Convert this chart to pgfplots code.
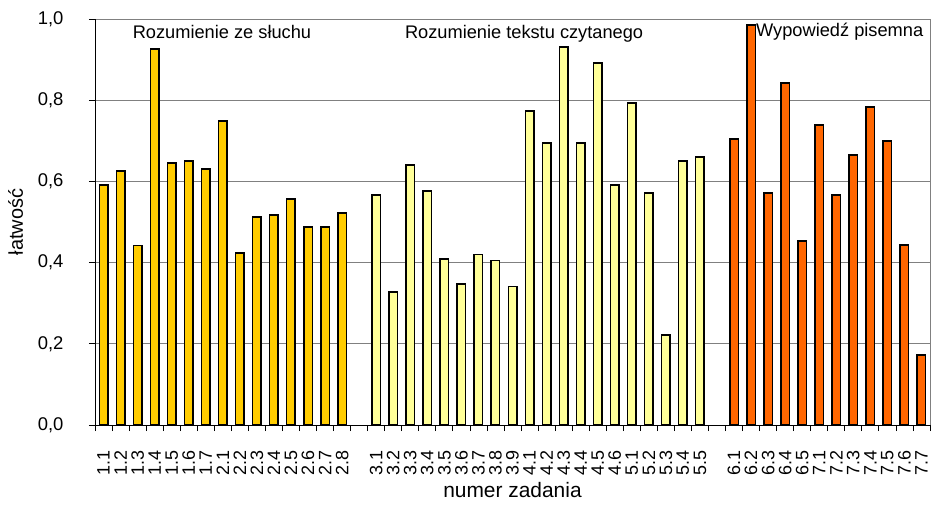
\documentclass[border=0pt]{standalone}
\usepackage{pgfplots}
\pgfplotsset{compat=1.18}
\usepackage{fontspec}
\setmainfont{Liberation Sans}
\definecolor{gold}{HTML}{FFCC00}
\definecolor{lightyel}{HTML}{FFFF99}
\definecolor{orng}{HTML}{FF6600}
\begin{document}
\begin{tikzpicture}
\path[use as bounding box] (-95bp,-81bp) rectangle (836bp,425bp);
\begin{axis}[
  at={(0,0)}, anchor=south west,
  scale only axis, width=835bp, height=406bp,
  xmin=-0.5, xmax=48.5, ymin=0, ymax=1,
  axis x line*=bottom, axis y line*=left,
  axis line style={-, black, line width=1pt},
  ymajorgrids, grid style={gray, line width=0.8pt},
  ytick={0,0.2,0.4,0.6,0.8,1},
  tick align=outside,
  major tick length=6bp, minor tick length=6bp,
  tick style={black, line width=0.8pt},
  major x tick style={draw=none},
  xtick={0,...,48},
  minor xtick={-0.5,0.5,...,48.5},
  xticklabels={1.1,1.2,1.3,1.4,1.5,1.6,1.7,2.1,2.2,2.3,2.4,2.5,2.6,2.7,2.8,,3.1,3.2,3.3,3.4,3.5,3.6,3.7,3.8,3.9,4.1,4.2,4.3,4.4,4.5,4.6,5.1,5.2,5.3,5.4,5.5,,6.1,6.2,6.3,6.4,6.5,7.1,7.2,7.3,7.4,7.5,7.6,7.7},
  xticklabel style={rotate=90, anchor=east, font=\fontsize{18}{18}\selectfont, inner sep=0pt, xshift=-19bp},
  yticklabel style={font=\fontsize{18.5}{18.5}\selectfont, xshift=-22bp},
  /pgf/number format/.cd, fixed, fixed zerofill, precision=1, use comma, assume math mode=true,
  /pgfplots/.cd,
  xlabel={numer zadania},
  ylabel={łatwość},
  xlabel style={font=\fontsize{21}{21}\selectfont, anchor=center, at={(axis description cs:0.5,-0.16)}},
  ylabel style={font=\fontsize{20}{20}\selectfont, anchor=center, at={(axis description cs:-0.095,0.5)}},
  every axis plot/.append style={ybar, bar width=8.5bp, bar shift=0pt, draw=black, line width=1.5bp},
  clip=false,
]
\addplot[fill=gold] coordinates {
(0,0.591) (1,0.626) (2,0.442) (3,0.926) (4,0.645) (5,0.650) (6,0.631) (7,0.749)
(8,0.424) (9,0.512) (10,0.517) (11,0.557) (12,0.488) (13,0.488) (14,0.522)};
\addplot[fill=lightyel] coordinates {
(16,0.567) (17,0.327) (18,0.640) (19,0.576) (20,0.409) (21,0.347) (22,0.420) (23,0.405)
(24,0.341) (25,0.773) (26,0.695) (27,0.931) (28,0.695) (29,0.892) (30,0.591) (31,0.793)
(32,0.571) (33,0.222) (34,0.650) (35,0.660)};
\addplot[fill=orng] coordinates {
(37,0.704) (38,0.985) (39,0.571) (40,0.842) (41,0.453) (42,0.739) (43,0.567) (44,0.665)
(45,0.783) (46,0.700) (47,0.443) (48,0.172)};
\draw[gray, line width=0.8pt] (rel axis cs:1,0) -- (rel axis cs:1,1);
\node[anchor=base, font=\fontsize{18.3}{18.3}\selectfont] at (axis cs:6.95,0.951) {Rozumienie ze słuchu};
\node[anchor=base, font=\fontsize{18.3}{18.3}\selectfont] at (axis cs:24.68,0.951) {Rozumienie tekstu czytanego};
\node[anchor=base, font=\fontsize{18.3}{18.3}\selectfont] at (axis cs:43.2,0.956) {Wypowiedź pisemna};
\end{axis}
\end{tikzpicture}
\end{document}
